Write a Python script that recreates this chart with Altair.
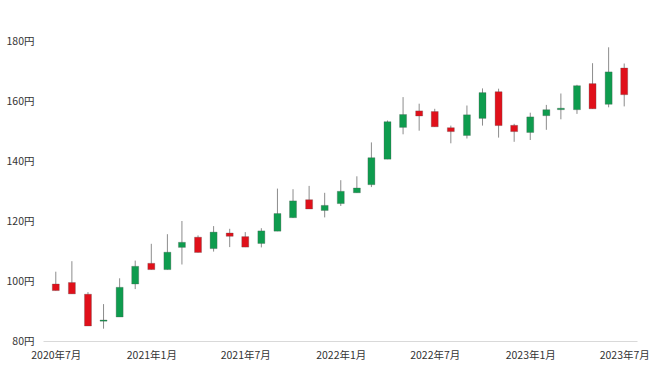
import altair as alt
import pandas as pd

months = [
    "2020-07-01", "2020-08-01", "2020-09-01", "2020-10-01", "2020-11-01", "2020-12-01",
    "2021-01-01", "2021-02-01", "2021-03-01", "2021-04-01", "2021-05-01", "2021-06-01",
    "2021-07-01", "2021-08-01", "2021-09-01", "2021-10-01", "2021-11-01", "2021-12-01",
    "2022-01-01", "2022-02-01", "2022-03-01", "2022-04-01", "2022-05-01", "2022-06-01",
    "2022-07-01", "2022-08-01", "2022-09-01", "2022-10-01", "2022-11-01", "2022-12-01",
    "2023-01-01", "2023-02-01", "2023-03-01", "2023-04-01", "2023-05-01", "2023-06-01",
    "2023-07-01",
]
open_ = [99.0, 99.5, 95.6, 86.6, 88.0, 99.0,
         105.9, 103.8, 111.2, 114.6, 110.8, 116.0,
         114.8, 112.5, 116.6, 121.1, 127.1, 123.5,
         125.8, 129.4, 132.1, 140.6, 151.2, 156.7,
         156.5, 151.1, 148.5, 154.2, 163.1, 151.9,
         149.5, 155.1, 157.1, 157.1, 165.8, 158.9,
         171.0]
high = [103.1, 106.6, 96.3, 92.3, 100.9, 106.8,
        112.4, 115.6, 120.0, 115.2, 118.3, 117.4,
        116.3, 117.6, 130.8, 130.6, 131.7, 129.4,
        133.6, 134.9, 146.2, 153.5, 161.3, 159.1,
        157.4, 151.8, 158.5, 164.2, 164.1, 152.4,
        156.1, 158.7, 162.5, 165.4, 172.6, 177.9,
        172.5]
low = [96.8, 95.7, 85.0, 84.1, 88.0, 97.3,
       103.8, 103.8, 105.5, 109.5, 109.8, 111.3,
       111.3, 111.2, 116.6, 121.0, 124.0, 121.2,
       125.0, 129.4, 131.3, 140.6, 148.9, 150.1,
       151.4, 145.9, 147.5, 151.8, 147.8, 146.4,
       147.0, 150.4, 153.9, 155.7, 157.4, 157.9,
       158.2]
close = [96.8, 95.7, 85.0, 87.0, 97.9, 104.9,
         103.8, 109.6, 112.9, 109.5, 116.3, 114.9,
         111.3, 116.7, 122.5, 126.7, 124.0, 125.2,
         129.9, 131.0, 141.1, 153.1, 155.5, 155.0,
         151.4, 149.8, 155.4, 162.8, 151.8, 149.8,
         154.7, 157.1, 157.6, 165.1, 157.4, 169.7,
         162.1]

tick_dates = ["2020-07-01", "2021-01-01", "2021-07-01", "2022-01-01",
              "2022-07-01", "2023-01-01", "2023-07-01"]
y_ticks = [80, 100, 120, 140, 160, 180]

df = pd.DataFrame({"date": months, "open": open_, "high": high,
                   "low": low, "close": close})

FONT = "Noto Sans CJK JP"

def dt(s):
    y, m, d = (int(v) for v in s.split("-"))
    return alt.DateTime(year=y, month=m, date=d, utc=True)

x_enc = alt.X(
    "date:T",
    scale=alt.Scale(type="utc", domain=[dt("2020-06-16"), dt("2023-07-16")]),
    axis=alt.Axis(
        title=None,
        values=[dt(s) for s in tick_dates],
        labelExpr="utcFormat(datum.value, '%Y年%-m月')",
        ticks=False,
        grid=False,
        domainColor="#d9d9d9",
        labelPadding=9,
        labelFont=FONT,
        labelFontSize=10.5,
        labelColor="#333333",
    ),
)

y_scale = alt.Scale(domain=[80, 180], zero=False, nice=False)
y_axis = alt.Axis(
    title=None,
    values=y_ticks,
    labelExpr="datum.value + '円'",
    ticks=False,
    grid=False,
    domain=False,
    labelPadding=9,
    labelFont=FONT,
    labelFontSize=10.5,
    labelColor="#333333",
)

base = alt.Chart(df).transform_calculate(
    dir="datum.close >= datum.open ? 'up' : 'down'"
)

wick = base.mark_rule(color="#8c8c8c", strokeWidth=1).encode(
    x=x_enc,
    y=alt.Y("low:Q", scale=y_scale, axis=y_axis),
    y2="high:Q",
)

body = base.mark_bar(size=7, stroke="#555555", strokeWidth=0.3).encode(
    x=x_enc,
    y=alt.Y("open:Q", scale=y_scale, axis=y_axis),
    y2="close:Q",
    color=alt.Color("dir:N", scale=alt.Scale(domain=["up", "down"],
                                             range=["#0e9c4e", "#e0101a"]),
                    legend=None),
)

chart = alt.layer(wick, body).properties(
    width=594, height=300,
    background="white",
    autosize="none",
    padding={"left": 43, "top": 41, "right": 23, "bottom": 30},
).configure_view(strokeWidth=0, stroke="transparent")

chart.save("out.html", embed_options={"renderer": "svg", "actions": False})
